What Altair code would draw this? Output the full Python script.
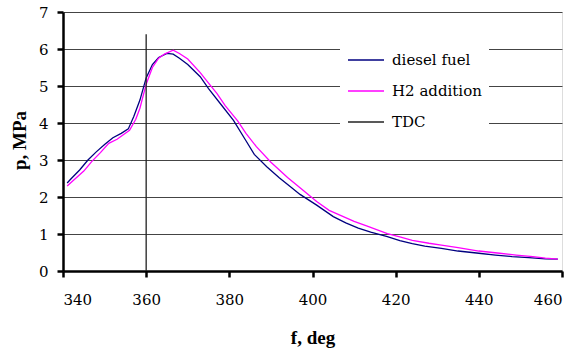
import altair as alt
import pandas as pd

# diesel fuel curve (crank angle deg, pressure MPa)
diesel_x = [341, 342, 344, 346, 348, 350, 352, 354, 355.7, 357, 358.5, 360, 361.5, 363, 365, 366.5,
            368, 370, 373, 375, 378, 381, 384, 386, 389, 392, 395, 397, 401, 405, 408, 411, 414,
            418, 421, 424, 427, 431, 435, 440, 444, 448, 452, 456, 459]
diesel_p = [2.38, 2.50, 2.73, 3.00, 3.22, 3.42, 3.60, 3.72, 3.84, 4.17, 4.62, 5.22, 5.58, 5.77, 5.88, 5.86,
            5.75, 5.58, 5.25, 4.93, 4.50, 4.07, 3.52, 3.15, 2.82, 2.52, 2.25, 2.07, 1.78, 1.47, 1.30, 1.16, 1.05,
            0.93, 0.82, 0.74, 0.67, 0.61, 0.54, 0.48, 0.43, 0.39, 0.36, 0.33, 0.32]

# H2 addition curve
h2_x = [341, 343, 345, 347, 349, 351, 353, 354.5, 356, 357.5, 358.5, 360, 361.5, 363, 364.5, 366.5,
        368, 370, 373, 375, 377, 379, 382, 384, 386.5, 390, 394, 397, 401, 404, 407, 410, 413,
        418, 421, 424, 428, 431, 435, 440, 445, 449, 453, 456, 459]
h2_p = [2.30, 2.50, 2.70, 2.97, 3.20, 3.45, 3.56, 3.68, 3.80, 4.10, 4.40, 5.05, 5.50, 5.75, 5.87, 5.97,
        5.88, 5.73, 5.36, 5.08, 4.80, 4.47, 4.06, 3.72, 3.36, 2.94, 2.53, 2.25, 1.88, 1.64, 1.49, 1.34, 1.22,
        1.01, 0.92, 0.83, 0.75, 0.70, 0.63, 0.54, 0.48, 0.43, 0.39, 0.35, 0.32]

# TDC marker line
tdc_x = [360, 360]
tdc_p = [0, 6.4]

series_names = ["diesel fuel", "H2 addition", "TDC"]
series_colors = ["#000080", "#FF00FF", "#222222"]

rows = []
for i, (x, p) in enumerate(zip(diesel_x, diesel_p)):
    rows.append({"f": x, "p": p, "series": "diesel fuel", "o": i})
for i, (x, p) in enumerate(zip(h2_x, h2_p)):
    rows.append({"f": x, "p": p, "series": "H2 addition", "o": i})
for i, (x, p) in enumerate(zip(tdc_x, tdc_p)):
    rows.append({"f": x, "p": p, "series": "TDC", "o": i})
df = pd.DataFrame(rows)

title_font = "Liberation Serif"
text_font = "DejaVu Serif"

chart = alt.Chart(df).mark_line(strokeWidth=1.3, interpolate="linear").encode(
    x=alt.X("f:Q", scale=alt.Scale(domain=[340, 460], nice=False),
            axis=alt.Axis(title="f, deg", values=[340, 360, 380, 400, 420, 440, 460], grid=False,
                          domainWidth=2.5, domainColor="black", tickWidth=2.5, tickColor="black",
                          tickSize=6, labelPadding=15, labelFont=text_font, labelFontSize=15,
                          labelColor="black", titleFont=title_font, titleFontSize=19,
                          titleFontWeight="bold", titleColor="black", titleY=66,
                          titleBaseline="middle")),
    y=alt.Y("p:Q", scale=alt.Scale(domain=[0, 7], nice=False),
            axis=alt.Axis(title="p, MPa", values=[0, 1, 2, 3, 4, 5, 6, 7], grid=True,
                          gridColor="#444444", gridWidth=1, domainWidth=2.5, domainColor="black",
                          tickWidth=2.5, tickColor="black", tickSize=6, labelPadding=9,
                          labelFont=text_font, labelFontSize=15, labelColor="black",
                          titleFont=title_font, titleFontSize=19, titleFontWeight="bold",
                          titleColor="black", titleX=-44, titleY=128, titleAngle=-90,
                          titleBaseline="middle", titleAlign="center")),
    color=alt.Color("series:N", scale=alt.Scale(domain=series_names, range=series_colors),
                    sort=series_names,
                    legend=alt.Legend(title=None, orient="none", legendX=277, legendY=22,
                                      fillColor="white", padding=7, symbolType="stroke",
                                      symbolSize=1296, symbolStrokeWidth=1.5, labelFont=text_font,
                                      labelFontSize=15, labelColor="black", labelOffset=7,
                                      rowPadding=4)),
    detail="series:N",
    order="o:Q",
).properties(
    width=499, height=259,
    padding={"left": 63, "top": 12, "right": 15, "bottom": 86},
    autosize=alt.AutoSizeParams(type="none"),
).configure_view(stroke="black", strokeWidth=1).configure(background="white")

chart.save("out.html", embed_options={"renderer": "svg", "actions": False})
